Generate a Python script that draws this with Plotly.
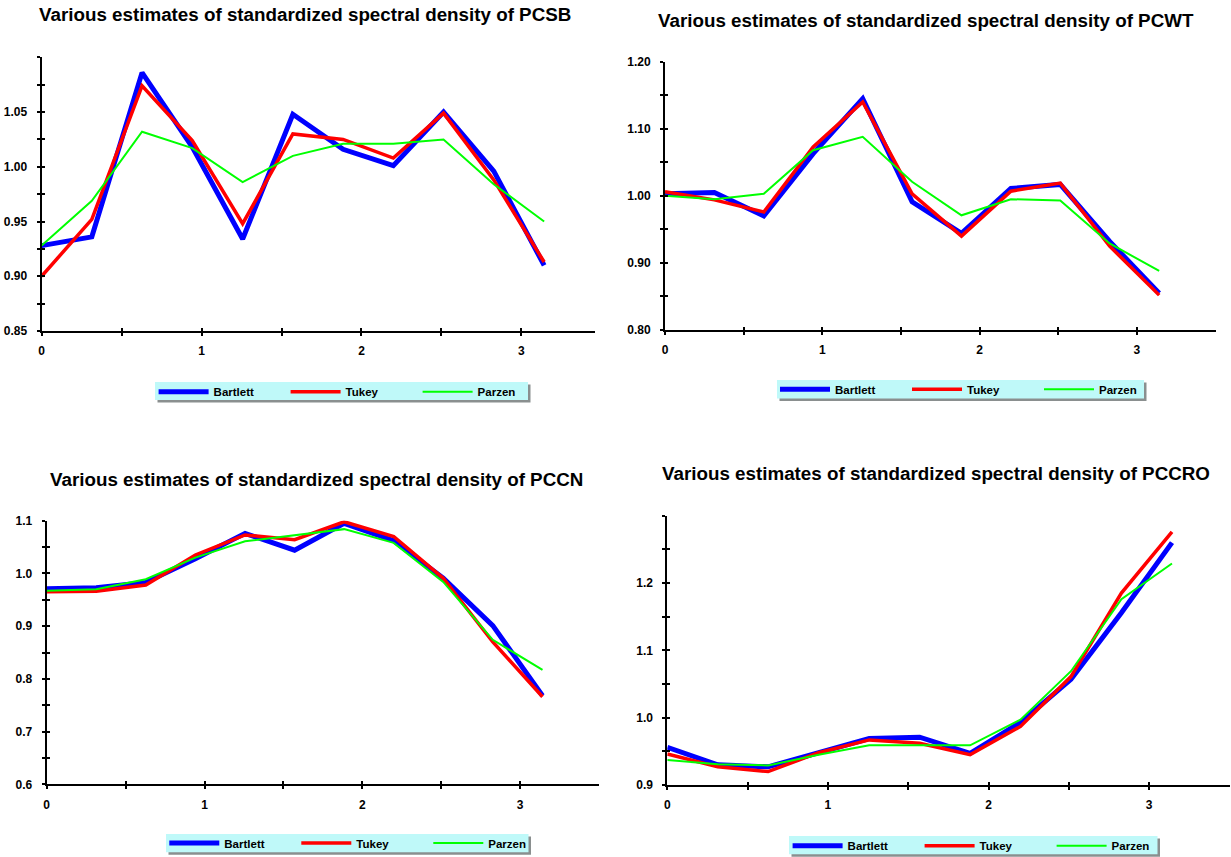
import plotly.graph_objects as go

W, H = 1231, 857

# ---------------- data ----------------
FREQ = [0, 0.314, 0.628, 0.942, 1.257, 1.571, 1.885, 2.199, 2.513, 2.827, 3.142]
SERIES = ["Bartlett", "Tukey", "Parzen"]

PCSB_BARTLETT = [0.928, 0.936, 1.086, 1.018, 0.934, 1.048, 1.016, 1.001, 1.050, 0.996, 0.910]
PCSB_TUKEY    = [0.900, 0.952, 1.074, 1.024, 0.948, 1.030, 1.025, 1.008, 1.049, 0.988, 0.913]
PCSB_PARZEN   = [0.928, 0.969, 1.032, 1.017, 0.986, 1.010, 1.021, 1.021, 1.025, 0.984, 0.950]

PCWT_BARTLETT = [1.003, 1.005, 0.970, 1.063, 1.145, 0.991, 0.944, 1.011, 1.017, 0.932, 0.855]
PCWT_TUKEY    = [1.006, 0.994, 0.976, 1.073, 1.140, 1.003, 0.940, 1.007, 1.019, 0.925, 0.852]
PCWT_PARZEN   = [1.000, 0.995, 1.003, 1.068, 1.088, 1.021, 0.971, 0.995, 0.993, 0.929, 0.888]

PCCN_BARTLETT = [0.971, 0.973, 0.983, 1.028, 1.076, 1.044, 1.095, 1.062, 0.991, 0.901, 0.768]
PCCN_TUKEY    = [0.965, 0.966, 0.978, 1.035, 1.073, 1.064, 1.098, 1.070, 0.991, 0.870, 0.766]
PCCN_PARZEN   = [0.967, 0.970, 0.989, 1.030, 1.061, 1.073, 1.084, 1.058, 0.984, 0.874, 0.817]

PCCRO_BARTLETT = [0.956, 0.930, 0.927, 0.948, 0.969, 0.971, 0.947, 0.993, 1.057, 1.156, 1.260]
PCCRO_TUKEY    = [0.946, 0.927, 0.920, 0.948, 0.967, 0.962, 0.945, 0.987, 1.061, 1.185, 1.276]
PCCRO_PARZEN   = [0.937, 0.931, 0.929, 0.945, 0.959, 0.959, 0.959, 0.997, 1.069, 1.176, 1.229]

NAMES = ["PCSB", "PCWT", "PCCN", "PCCRO"]
TITLE_PREFIX = "Various estimates of standardized spectral density of "

X_TICKS = [0, 0.5, 1, 1.5, 2, 2.5, 3]
X_TICK_TEXT = ["0", "", "1", "", "2", "", "3"]

Y_TICKS_PCSB = [0.85, 0.875, 0.90, 0.925, 0.95, 0.975, 1.00, 1.025, 1.05, 1.075, 1.10]
Y_TEXT_PCSB = ["0.85", "", "0.90", "", "0.95", "", "1.00", "", "1.05", "", ""]
Y_TICKS_PCWT = [0.80, 0.85, 0.90, 0.95, 1.00, 1.05, 1.10, 1.15, 1.20]
Y_TEXT_PCWT = ["0.80", "", "0.90", "", "1.00", "", "1.10", "", "1.20"]
Y_TICKS_PCCN = [0.6, 0.65, 0.7, 0.75, 0.8, 0.85, 0.9, 0.95, 1.0, 1.05, 1.1]
Y_TEXT_PCCN = ["0.6", "", "0.7", "", "0.8", "", "0.9", "", "1.0", "", "1.1"]
Y_TICKS_PCCRO = [0.9, 0.95, 1.0, 1.05, 1.1, 1.15, 1.2, 1.25, 1.3]
Y_TEXT_PCCRO = ["0.9", "", "1.0", "", "1.1", "", "1.2", "", ""]

# ---------------- styling / layout (pixels) ----------------
COLORS = ["#0000ff", "#ff0000", "#00ff00"]
WIDTHS = [5, 3.5, 2]
FONT = "Liberation Sans, Arial, sans-serif"

panels = [
    dict(series=[PCSB_BARTLETT, PCSB_TUKEY, PCSB_PARZEN], yt=Y_TICKS_PCSB, ytt=Y_TEXT_PCSB,
         xr=[0, 3.46], yr=[0.85, 1.10], xpx=[41.6, 595.0], ypx=[331.0, 57.3],
         title=(37.0, 14.5), box=(155, 382, 528, 400), sym=(159.3, 391.7)),
    dict(series=[PCWT_BARTLETT, PCWT_TUKEY, PCWT_PARZEN], yt=Y_TICKS_PCWT, ytt=Y_TEXT_PCWT,
         xr=[0, 3.5], yr=[0.80, 1.20], xpx=[665.0, 1215.5], ypx=[330.0, 61.7],
         title=(656.0, 20.0), box=(777, 380, 1144, 398.5), sym=(780.7, 389.3)),
    dict(series=[PCCN_BARTLETT, PCCN_TUKEY, PCCN_PARZEN], yt=Y_TICKS_PCCN, ytt=Y_TEXT_PCCN,
         xr=[0, 3.5], yr=[0.6, 1.1], xpx=[46.7, 599.0], ypx=[784.3, 520.7],
         title=(47.5, 479.3), box=(166, 834, 528.5, 852.3), sym=(170.0, 843.0)),
    dict(series=[PCCRO_BARTLETT, PCCRO_TUKEY, PCCRO_PARZEN], yt=Y_TICKS_PCCRO, ytt=Y_TEXT_PCCRO,
         xr=[0, 3.5], yr=[0.9, 1.3], xpx=[667.3, 1229.5], ypx=[785.0, 515.7],
         title=(660.0, 473.3), box=(789, 836, 1157.5, 854.3), sym=(793.3, 845.7)),
]

fx = lambda p: p / W
fy = lambda p: 1 - p / H

fig = go.Figure()
layout = dict(width=W, height=H, margin=dict(l=0, r=0, t=0, b=0, autoexpand=False),
              paper_bgcolor="white", plot_bgcolor="white", showlegend=True,
              annotations=[], shapes=[])

for i, p in enumerate(panels):
    n = i + 1
    sfx = "" if n == 1 else str(n)
    on = n + 4
    for k, name in enumerate(SERIES):
        fig.add_trace(go.Scatter(
            x=FREQ, y=p["series"][k], mode="lines", name=name,
            line=dict(color=COLORS[k], width=WIDTHS[k]),
            xaxis=f"x{sfx}", yaxis=f"y{sfx}", legend=f"legend{sfx}",
            hoverinfo="x+y+name"))
    # empty helper traces for the inner half of the crossing ticks
    fig.add_trace(go.Scatter(x=[], y=[], xaxis=f"x{on}", yaxis=f"y{sfx}", showlegend=False, hoverinfo="skip"))
    fig.add_trace(go.Scatter(x=[], y=[], xaxis=f"x{sfx}", yaxis=f"y{on}", showlegend=False, hoverinfo="skip"))

    xdom = [fx(p["xpx"][0]), fx(p["xpx"][1])]
    ydom = [fy(p["ypx"][0]), fy(p["ypx"][1])]
    tickfont = dict(family=FONT, size=12, color="black", weight="bold")
    layout[f"xaxis{sfx}"] = dict(
        domain=xdom, range=p["xr"], anchor=f"y{sfx}", showgrid=False, zeroline=False,
        showline=True, linecolor="black", linewidth=2, ticks="outside", ticklen=3,
        tickwidth=1.5, tickcolor="black", tickvals=X_TICKS, ticktext=X_TICK_TEXT,
        tickfont=tickfont, ticklabelstandoff=5, fixedrange=True)
    layout[f"yaxis{sfx}"] = dict(
        domain=ydom, range=p["yr"], anchor=f"x{sfx}", showgrid=False, zeroline=False,
        showline=True, linecolor="black", linewidth=2, ticks="outside", ticklen=3,
        tickwidth=1.5, tickcolor="black", tickvals=p["yt"], ticktext=p["ytt"],
        tickfont=tickfont, ticklabelstandoff=7, fixedrange=True)
    layout[f"xaxis{on}"] = dict(
        overlaying=f"x{sfx}", range=p["xr"], anchor=f"y{sfx}", side="bottom",
        showgrid=False, zeroline=False, showline=False, ticks="inside", ticklen=3,
        tickwidth=1.5, tickcolor="black", tickvals=X_TICKS, showticklabels=False,
        fixedrange=True)
    layout[f"yaxis{on}"] = dict(
        overlaying=f"y{sfx}", range=p["yr"], anchor=f"x{sfx}", side="left",
        showgrid=False, zeroline=False, showline=False, ticks="inside", ticklen=3,
        tickwidth=1.5, tickcolor="black", tickvals=p["yt"], showticklabels=False,
        fixedrange=True)

    layout["annotations"].append(dict(
        text=TITLE_PREFIX + NAMES[i], xref="paper", yref="paper",
        x=fx(p["title"][0]), y=fy(p["title"][1]), xanchor="left", yanchor="middle",
        showarrow=False, font=dict(family=FONT, size=18.8, color="black", weight="bold")))

    x0, y0, x1, y1 = p["box"]
    layout["shapes"].append(dict(type="rect", xref="paper", yref="paper", layer="below",
                                 x0=fx(x0 + 2.5), x1=fx(x1 + 2.5), y0=fy(y0 + 2.5), y1=fy(y1 + 2.5),
                                 fillcolor="#8a8f8f", line=dict(width=0)))
    layout["shapes"].append(dict(type="rect", xref="paper", yref="paper", layer="below",
                                 x0=fx(x0), x1=fx(x1), y0=fy(y0), y1=fy(y1),
                                 fillcolor="#bff9f9", line=dict(width=0)))
    layout[f"legend{sfx}"] = dict(
        x=fx(p["sym"][0] - 5.7), y=fy(p["sym"][1]), xanchor="left", yanchor="middle",
        orientation="h", bgcolor="rgba(0,0,0,0)", borderwidth=0,
        entrywidth=67, entrywidthmode="pixels", itemwidth=50,
        font=dict(family=FONT, size=11.5, color="black", weight="bold"),
        itemclick=False, itemdoubleclick=False)

fig.update_layout(**layout)
fig.write_html("out.html", config={"displayModeBar": False},
               post_script="document.body.style.margin='0px';")
